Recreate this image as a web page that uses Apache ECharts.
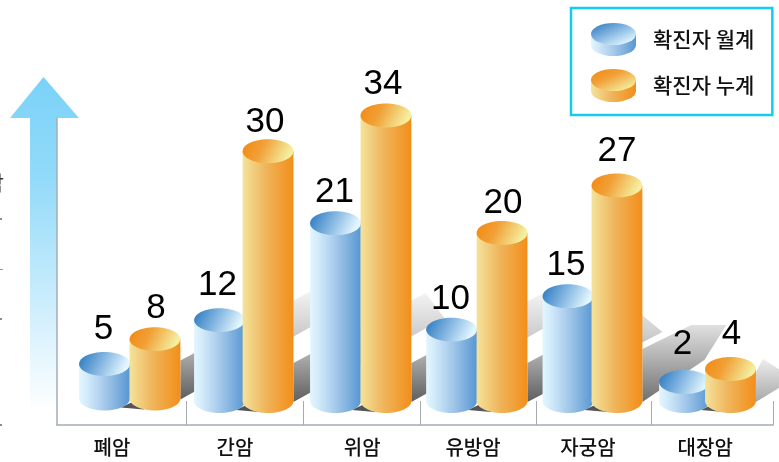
<!DOCTYPE html>
<html><head><meta charset="utf-8">
<style>html,body{margin:0;padding:0;background:#fff}#c{width:779px;height:462px}</style>
<script src="https://cdn.jsdelivr.net/npm/echarts@6/dist/echarts.min.js"></script>
</head><body><div id="c"></div>
<script>
const categories = ['폐암','간암','위암','유방암','자궁암','대장암'];
const monthlyTotals = [5,12,21,10,15,2];
const cumulativeTotals = [8,30,34,20,27,4];
// The picture is not drawn to a linear scale: apparent column heights read off it, in the units of the tallest columns.
const monthlyHeights = [4.44,9.72,21.37,8.58,12.6,2.28];
const cumulativeHeights = [7.44,30,34.3,20.2,25.9,3.84];
const baseLift = [0.3,0,0,0,0,0];
// Column centres on the x axis (the illustration's spacing is slightly irregular).
const monthlyPos = [-0.221,0.775,1.779,2.784,3.792,4.801];
const cumulativePos = [0.216,1.195,2.216,3.221,4.216,5.199];
const tickPositions = [0.49,1.5,2.51,3.52,4.51,5.567];
const labelPositions = [-0.156,0.909,2.01,2.97,3.965,4.98];
// Hand-placed value label nudges in the illustration.
const monthlyNudge = [[0,-1],[-1,-1],[0,3],[0,4],[-1,3],[-1,-4]];
const cumulativeNudge = [[2,3],[-2,5],[-2,3],[2,4],[1,0],[2,-1]];

const linear = (x,y,x2,y2,stops,global)=>({type:'linear',x,y,x2,y2,global:!!global,
  colorStops:stops.map(c=>({offset:c[0],color:c[1]}))});
const blueBody = linear(0,0,1,0,[[0,'#e3f6ff'],[0.15,'#d3ecfb'],[0.5,'#a6c9ea'],[1,'#5797d2']]);
const blueTop = linear(0.1,0.1,0.85,0.9,[[0,'#3b84c6'],[0.5,'#8dbce4'],[1,'#e3f7ff']]);
const orangeBody = linear(0,0,1,0,[[0,'#f4e39c'],[0.45,'#efb55c'],[1,'#f38e19']]);
const orangeTop = linear(0.1,0.1,0.85,0.9,[[0,'#f28e1a'],[0.35,'#f19f35'],[1,'#f4ee9f']]);

function cylinder(nudges, body, top){
  return function(params, api){
    const x = api.value(0), h = api.value(1), txt = api.value(2), lift = api.value(3);
    const n = nudges[params.dataIndex];
    const rx = api.size([0.44,0])[0]/2, ry = rx*0.47;
    const b = api.coord([x, lift]), t = api.coord([x, h]);
    return {type:'group',children:[
      {type:'ellipse',shape:{cx:b[0],cy:b[1],rx,ry},style:{fill:body}},
      {type:'rect',shape:{x:b[0]-rx,y:t[1],width:rx*2,height:b[1]-t[1]},style:{fill:body}},
      {type:'ellipse',shape:{cx:t[0],cy:t[1],rx,ry},style:{fill:top}},
      {type:'text',z2:50,style:{text:String(txt),x:t[0]-1+n[0],y:t[1]-34+n[1],fill:'#000',align:'center',verticalAlign:'middle',
        font:'35px "Liberation Sans", Arial, sans-serif'}}
    ]};
  };
}
function shadow(params, api){
  const i = params.dataIndex, lift = api.value(1);
  const rx = api.size([0.44,0])[0]/2;
  const o = api.coord([cumulativePos[i], lift]), bl = api.coord([monthlyPos[i], lift]);
  const xr = o[0]+rx, yb = o[1]+1;
  let pts, grad;
  const std = linear(0,yb,0,yb-112,[[0,'#5f5f5f'],[0.38,'#a6a6a6'],[0.6,'#cdcdcd'],[1,'#f6f6f6']],true);
  if(i===4){
    pts=[[0,0],[0,-53],[49,-77],[84,-77],[62,-42]];
    grad=linear(0,yb,0,yb-90,[[0,'#6f6f6f'],[0.5,'#b3b3b3'],[1,'#f2f2f2']],true);
  }else if(i===5){
    pts=[[0,0],[0,-30],[7,-43],[40,-22],[23,-14]];
    grad=linear(0,yb,0,yb-45,[[0,'#a8a8a8'],[1,'#f0f0f0']],true);
  }else if(i===3){
    pts=[[0,0],[0,-39],[105,-95],[135,-70]];
    grad=std;
  }else{
    pts=[[0,0],[0,-39],[132,-109],[151,-84]];
    grad=std;
  }
  const wedgeX = bl[0]+rx;
  return {type:'group',children:[
    {type:'polygon',shape:{points:pts.map(p=>[xr+p[0],yb+p[1]])},style:{fill:grad}},
    {type:'polygon',shape:{points:[[wedgeX-9,bl[1]+9],[wedgeX+14,bl[1]-2],[wedgeX+14,bl[1]+11]]},style:{fill:'#555'}}
  ]};
}
function legendIcon(c){
  const svg=`<svg xmlns="http://www.w3.org/2000/svg" width="90" height="66" viewBox="0 0 45 33">
<defs><linearGradient id="a" x1="0" x2="1" y1="0" y2="0">${c.body.map(s=>`<stop offset="${s[0]}" stop-color="${s[1]}"/>`).join('')}</linearGradient>
<linearGradient id="b" x1="0.1" x2="0.85" y1="0.1" y2="0.9">${c.top.map(s=>`<stop offset="${s[0]}" stop-color="${s[1]}"/>`).join('')}</linearGradient></defs>
<path d="M0 ${c.h} V${33-11} A22.5 11 0 0 0 45 ${33-11} V${c.h} Z" fill="url(#a)"/>
<ellipse cx="22.5" cy="${c.h}" rx="22.5" ry="${c.h}" fill="url(#b)"/></svg>`;
  return 'image://data:image/svg+xml;charset=utf-8,'+encodeURIComponent(svg);
}
const iconBlue = legendIcon({h:11,body:[[0,'#e3f6ff'],[0.5,'#a6c9ea'],[1,'#5797d2']],top:[[0,'#3b84c6'],[0.5,'#8dbce4'],[1,'#e3f7ff']]});
const iconOrange = legendIcon({h:11,body:[[0,'#f4e39c'],[0.45,'#efb55c'],[1,'#f38e19']],top:[[0,'#f28e1a'],[0.35,'#f19f35'],[1,'#f4ee9f']]});

const axisGray = '#a4acb3';
const rows = (ps,hs,ls)=>categories.map((c,i)=>[ps[i],hs[i],ls[i],baseLift[i]]);
const chart = echarts.init(document.getElementById('c'),null,{renderer:'canvas'});
chart.setOption({
  animation:false,
  backgroundColor:'#fff',
  grid:{left:57,right:6,top:118,bottom:37,containLabel:false},
  xAxis:{type:'value',min:-0.632,max:5.567,splitLine:{show:false},
    axisLine:{show:true,onZero:false,lineStyle:{color:axisGray,width:1.5}},
    axisTick:{show:true,inside:true,length:24,customValues:tickPositions,lineStyle:{color:axisGray,width:1}},
    axisLabel:{show:true,customValues:labelPositions,margin:12,color:'#111',fontSize:20,fontWeight:500,
      fontFamily:'"Noto Sans CJK KR"',formatter:v=>categories[labelPositions.indexOf(v)]}},
  yAxis:{type:'value',min:-2.88,max:34,splitLine:{show:false},axisTick:{show:false},axisLabel:{show:false},
    axisLine:{show:true,onZero:false,lineStyle:{color:axisGray,width:1.5}}},
  legend:{left:571,top:8,orient:'vertical',padding:[15,18,13,20],itemGap:13,itemWidth:45,itemHeight:33,
    borderColor:'#13cdf0',borderWidth:2.5,backgroundColor:'#fff',
    textStyle:{fontFamily:'"Noto Sans CJK KR"',fontSize:21,fontWeight:500,color:'#111',padding:[0,0,0,12]},
    data:[{name:'확진자 월계',icon:iconBlue},{name:'확진자 누계',icon:iconOrange}],selectedMode:false},
  graphic:[
    {type:'polygon',silent:true,shape:{points:[[43.5,77],[79,118],[57,118],[57,412],[30,412],[30,118],[10,118]]},
      style:{fill:{type:'linear',x:0,y:77,x2:0,y2:412,global:true,colorStops:[
        {offset:0,color:'#7ad2f8'},{offset:0.3,color:'#92daf9'},{offset:0.65,color:'#c8ecfc'},{offset:1,color:'#ffffff'}]}},z:-1},
    {type:'text',silent:true,style:{text:'암',x:4,y:183,align:'right',verticalAlign:'middle',fill:'#333',font:'20px "Noto Sans CJK KR"'}},
    {type:'rect',silent:true,shape:{x:0,y:218,width:2,height:2},style:{fill:'#7e8fa3'}},
    {type:'rect',silent:true,shape:{x:0,y:269,width:3,height:1},style:{fill:'#999'}},
    {type:'rect',silent:true,shape:{x:0,y:318,width:2,height:2},style:{fill:'#7e8fa3'}},
    {type:'rect',silent:true,shape:{x:0,y:424,width:2,height:2},style:{fill:'#7e8fa3'}}
  ],
  series:[
    {type:'custom',name:'shadow',z:1,silent:true,clip:false,renderItem:shadow,
      encode:{x:0,y:1},data:categories.map((c,i)=>[cumulativePos[i],baseLift[i]])},
    {type:'custom',name:'확진자 월계',z:2,silent:true,clip:false,renderItem:cylinder(monthlyNudge,blueBody,blueTop),
      encode:{x:0,y:1},data:rows(monthlyPos,monthlyHeights,monthlyTotals)},
    {type:'custom',name:'확진자 누계',z:3,silent:true,clip:false,renderItem:cylinder(cumulativeNudge,orangeBody,orangeTop),
      encode:{x:0,y:1},data:rows(cumulativePos,cumulativeHeights,cumulativeTotals)}
  ]
});
</script></body></html>
